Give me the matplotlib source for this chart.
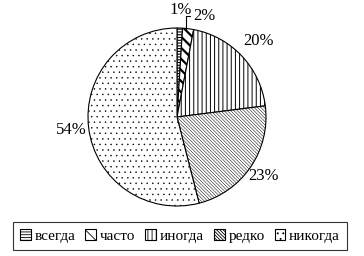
import numpy as np
import matplotlib
matplotlib.use("Agg")
import matplotlib.pyplot as plt

categories = ["всегда", "часто", "иногда", "редко", "никогда"]
values = [1, 2, 20, 23, 54]
pct_labels = ["1%", "2%", "20%", "23%", "54%"]
hatches = ["------", "\\\\\\", "||||", "\\" * 10, "..."]
hatch_lw = [0.8, 1.6, 0.7, 0.35, 0.3]

plt.rcParams['font.family'] = ['Liberation Serif', 'DejaVu Serif']
plt.rcParams['hatch.linewidth'] = 0.6

W, H = 364, 256
fig = plt.figure(figsize=(W / 100, H / 100), dpi=100)
cx, cy, R = 177, 117, 89
ax = fig.add_axes([(cx - R) / W, (H - cy - R) / H, 2 * R / W, 2 * R / H])

wedges, _ = ax.pie(values, startangle=90, counterclock=False,
                   colors=["white"] * 5,
                   wedgeprops=dict(edgecolor="black", linewidth=0.8))
for w, h, lw in zip(wedges, hatches, hatch_lw):
    w.set_hatch(h)
    if hasattr(w, "set_hatch_linewidth"):
        w.set_hatch_linewidth(lw)
ax.set_xlim(-1, 1)
ax.set_ylim(-1, 1)
ax.set_aspect("equal")
ax.axis("off")

dist = [1.2, 1.17, 1.25, 1.18, 1.2]
for i, (w, lab) in enumerate(zip(wedges, pct_labels)):
    mid = np.deg2rad((w.theta1 + w.theta2) / 2)
    if i == 1:
        x0, y0 = np.cos(mid) * 1.0, np.sin(mid) * 1.0
        ax.annotate(lab, xy=(x0 - 0.02, y0), xytext=(0.18, 1.13),
                    fontsize=12, ha="left", va="center",
                    arrowprops=dict(arrowstyle="-", color="black", lw=0.8,
                                    connectionstyle="angle,angleA=0,angleB=90,rad=0",
                                    shrinkA=0, shrinkB=0),
                    annotation_clip=False)
        continue
    ax.text(np.cos(mid) * dist[i], np.sin(mid) * dist[i], lab,
            ha="center", va="center", fontsize=12)

leg = fig.legend(wedges, categories, loc="center",
                 bbox_to_anchor=((13 + 347) / 2 / W, 1 - 236 / H),
                 ncol=5, fontsize=11, frameon=True, fancybox=False,
                 handlelength=0.7, handleheight=0.7, handletextpad=0.25,
                 columnspacing=0.65, borderpad=0.45, borderaxespad=0)
leg.get_frame().set_edgecolor("black")
leg.get_frame().set_linewidth(0.8)

fig.savefig("out.png", dpi=100)
